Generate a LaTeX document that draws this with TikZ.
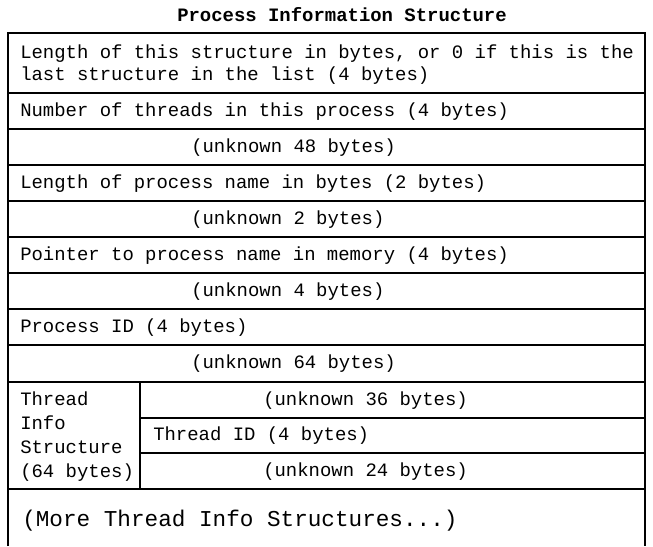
\documentclass[tikz,border=0pt]{standalone}
\usepackage{fontspec}
\setmonofont{Liberation Mono}

\tikzset{
  field/.style={anchor=west, inner sep=0pt, align=left,
    font=\ttfamily\fontsize{14.2}{16.5}\selectfont},
  rowline/.style={line width=0.9pt},
  sepline/.style={line width=2.2pt},
}

\begin{document}
\begin{tikzpicture}[x=0.75pt,y=-0.75pt]
    \useasboundingbox (0,0) rectangle (653,546);

    % Titel
    \node[font=\ttfamily\bfseries\fontsize{14.2}{13}\selectfont] (title) at (342,15) {Process Information Structure};

    % Rahmen (unten offen)
    \draw[rowline] (8,546) -- (8,33) -- (645,33) -- (645,546);

    % Trennlinien der Felder
    \foreach \y in {93,129,165,201,237,273,309,345}
        \draw[rowline] (8,\y) -- (645,\y);
    \draw[sepline] (8,382) -- (645,382);
    \draw[rowline] (140,418) -- (645,418);
    \draw[rowline] (140,453) -- (645,453);
    \draw[sepline] (8,489) -- (645,489);
    \draw[rowline] (140,382) -- (140,489);

    % Felder der Prozessinfo
    \node[field] (len) at (20,65) {Length of this structure in bytes, or 0 if this is the\\last structure in the list (4 bytes)};
    \node[field] (nthreads) at (20,112) {Number of threads in this process (4 bytes)};
    \node[field] (unk48) at (191,148) {(unknown 48 bytes)};
    \node[field] (namelen) at (20,184) {Length of process name in bytes (2 bytes)};
    \node[field] (unk2) at (191,220) {(unknown 2 bytes)};
    \node[field] (nameptr) at (20,256) {Pointer to process name in memory (4 bytes)};
    \node[field] (unk4) at (191,292) {(unknown 4 bytes)};
    \node[field] (pid) at (20,328) {Process ID (4 bytes)};
    \node[field] (unk64) at (191,364) {(unknown 64 bytes)};

    % Thread-Info-Struktur
    \node[field, font=\ttfamily\fontsize{14.2}{18}\selectfont] (thread) at (20,437) {Thread\\Info\\Structure\\(64 bytes)};
    \node[field] (unk36) at (263,401) {(unknown 36 bytes)};
    \node[field] (tid) at (153,436) {Thread ID (4 bytes)};
    \node[field] (unk24) at (263,472) {(unknown 24 bytes)};

    % weitere Threads
    \node[field, font=\ttfamily\fontsize{17}{20}\selectfont] (more) at (22,521) {(More Thread Info Structures...)};

\end{tikzpicture}
\end{document}
